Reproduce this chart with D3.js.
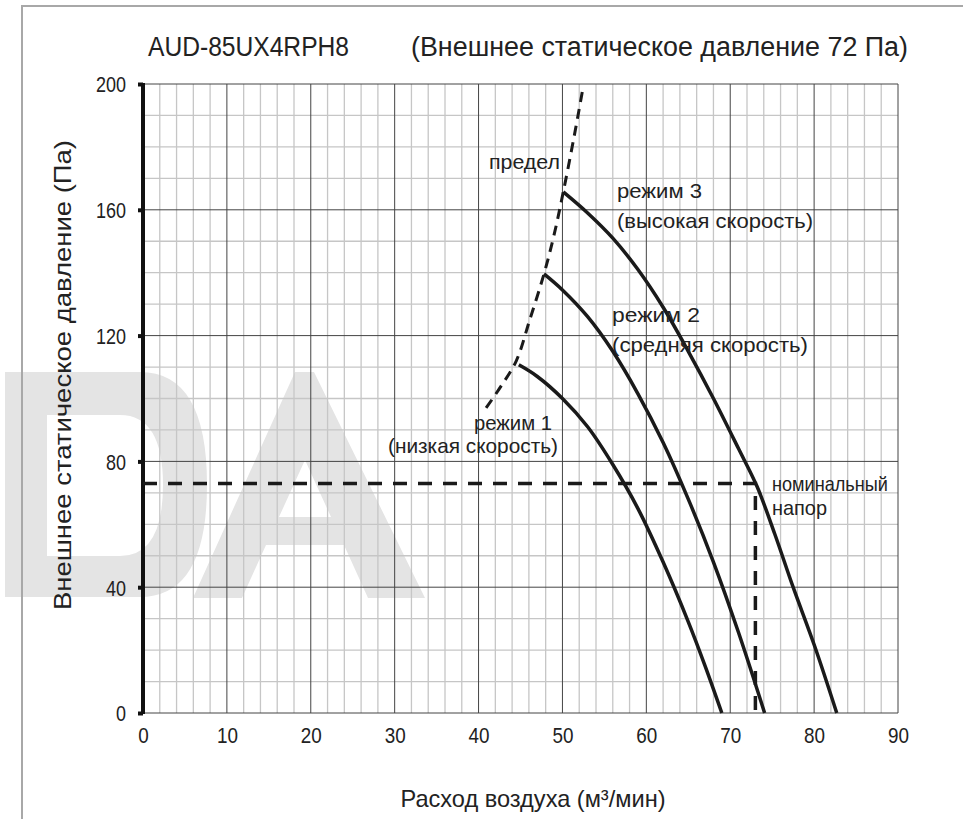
<!DOCTYPE html>
<html><head><meta charset="utf-8">
<script src="https://cdn.jsdelivr.net/npm/d3@7/dist/d3.min.js"></script>
<style>
body{margin:0;background:#fff}
text{font-family:"Liberation Sans Narrow","Arial Narrow","Liberation Sans",sans-serif;fill:#222}
</style>
</head><body>
<svg id="c" width="963" height="819"></svg>
<script>
// ---- data ----
const xTickValues = [0,10,20,30,40,50,60,70,80,90];
const yTickValues = [0,40,80,120,160,200];
const limitFlow  = [40.9,42.7,44.5,46.1,47.8,49.0,50.1,51.3,52.4];
const limitPress = [97,104,112,125,139.6,152,165.7,182,198];
const mode1Flow  = [44.8,47,50,53,56,59,62,65,67,69];
const mode1Press = [110.7,107,100,91,79,65,48,29,15,0];
const mode2Flow  = [47.8,50,53,56,59,62,65,68,71,74.1];
const mode2Press = [139.6,134.5,126,115,101.5,86,68,48,25.5,0];
const mode3Flow  = [50.1,53,56,59,62,65,68,71,73.2,75.3,77.5,80.1,82.7];
const mode3Press = [165.7,159,151,141,129,115,100,84,72,57,40,21,0];
const nominalFlow = 73, nominalPress = 73;
const titleModel = "AUD-85UX4RPH8";
const titleCond  = "(Внешнее статическое давление 72 Па)";
const yTitle = "Внешнее статическое давление (Па)";
const xTitle = "Расход воздуха (м³/мин)";

// ---- layout ----
const svg = d3.select("#c");
const L=143, R=898, T=84, B=713;
const x = d3.scaleLinear().domain([0,90]).range([L,R]);
const y = d3.scaleLinear().domain([0,200]).range([B,T]);

// watermark
svg.append("path")
  .attr("d","M5,372H140Q207,372 207,485Q207,597 140,597H5Z M47,415H120Q163,415 163,485Q163,556 120,556H47Z")
  .attr("fill","#e4e4e4").attr("fill-rule","evenodd");
svg.append("path")
  .attr("d","M193,598L295,372L314,372L425,598L368,598L344,545L266,545L242,598Z M305,460L331,517L279,517Z")
  .attr("fill","#e4e4e4").attr("fill-rule","evenodd");

// frame lines
svg.append("line").attr("x1",22).attr("x2",963).attr("y1",6).attr("y2",6).attr("stroke","#a8a8a8").attr("stroke-width",2);
svg.append("line").attr("x1",22).attr("x2",22).attr("y1",5).attr("y2",819).attr("stroke","#a8a8a8").attr("stroke-width",2);

// grid
const g = svg.append("g");
const minorX = d3.range(0,91,2).filter(v=>v%10!==0);
const minorY = d3.range(0,201,10).filter(v=>v%40!==0);
g.selectAll(".mx").data(minorX).join("line")
  .attr("x1",d=>x(d)).attr("x2",d=>x(d)).attr("y1",T).attr("y2",B)
  .attr("stroke","#c6c6c6").attr("stroke-width",1.3);
g.selectAll(".my").data(minorY).join("line")
  .attr("x1",L).attr("x2",R).attr("y1",d=>y(d)).attr("y2",d=>y(d))
  .attr("stroke","#c6c6c6").attr("stroke-width",1.3);
g.selectAll(".Mx").data(xTickValues).join("line")
  .attr("x1",d=>x(d)).attr("x2",d=>x(d)).attr("y1",T).attr("y2",B)
  .attr("stroke","#444").attr("stroke-width",1);
g.selectAll(".My").data(yTickValues).join("line")
  .attr("x1",L).attr("x2",R).attr("y1",d=>y(d)).attr("y2",d=>y(d))
  .attr("stroke","#444").attr("stroke-width",1);

// axes
const yAxis = d3.axisLeft(y).tickValues(yTickValues).tickSize(5).tickPadding(12);
const ya = svg.append("g").attr("transform",`translate(${L},0)`).call(yAxis);
ya.select(".domain").remove();
ya.selectAll(".tick line").attr("stroke","#111").attr("stroke-width",4);
ya.selectAll(".tick text").attr("font-size",22).attr("fill","#222").attr("font-family",null)
  .attr("dy","0.36em")
  .attr("textLength",d=>String(d).length*10).attr("lengthAdjust","spacingAndGlyphs");
const xAxis = d3.axisBottom(x).tickValues(xTickValues).tickSize(0).tickPadding(14);
const xa = svg.append("g").attr("transform",`translate(0,${B})`).call(xAxis);
xa.select(".domain").remove();
xa.selectAll(".tick text").attr("font-size",22).attr("fill","#222").attr("font-family",null)
  .attr("textLength",d=>String(d).length*10.5).attr("lengthAdjust","spacingAndGlyphs");
svg.append("line").attr("x1",L).attr("x2",L).attr("y1",T-1).attr("y2",B+1).attr("stroke","#111").attr("stroke-width",4);

// curves
const line = d3.line().x(d=>x(d[0])).y(d=>y(d[1])).curve(d3.curveCatmullRom.alpha(0.5));
const zip = (a,b)=>a.map((v,i)=>[v,b[i]]);
[[mode1Flow,mode1Press],[mode2Flow,mode2Press],[mode3Flow,mode3Press]].forEach(([f,p])=>{
  svg.append("path").attr("d",line(zip(f,p))).attr("fill","none").attr("stroke","#1a1a1a").attr("stroke-width",3.5);
});
svg.append("path").attr("d",line(zip(limitFlow,limitPress))).attr("fill","none")
  .attr("stroke","#1a1a1a").attr("stroke-width",3).attr("stroke-dasharray","10,7");
// nominal dashed
svg.append("path").attr("d",d3.line()([[x(0),y(nominalPress)],[x(nominalFlow),y(nominalPress)],[x(nominalFlow),y(0)]]))
  .attr("fill","none").attr("stroke","#1a1a1a").attr("stroke-width",3.5).attr("stroke-dasharray","14,11");

// texts
function txt(s,px,py,fs,len,anchor){
  const t=svg.append("text").attr("x",px).attr("y",py).attr("font-size",fs).text(s);
  if(anchor) t.attr("text-anchor",anchor);
  if(len) t.attr("textLength",len).attr("lengthAdjust","spacingAndGlyphs");
  return t;
}
txt(titleModel,148,56,28,201);
txt(titleCond,411,56,27,497);
txt("предел",489,169,21,71);
txt("режим 3",617,198,21,85);
txt("(высокая скорость)",617,228,21,196);
txt("режим 2",612,322,21,88);
txt("(средняя скорость)",612,352,21,196);
txt("режим 1",474,430,21,78);
txt("(низкая скорость)",388,453,21,170);
txt("номинальный",772,491,21,116);
txt("напор",772,515,21,55);
svg.append("text").attr("transform","translate(71,375) rotate(-90)").attr("text-anchor","middle")
  .attr("font-size",24).attr("textLength",470).attr("lengthAdjust","spacingAndGlyphs").text(yTitle);
txt(xTitle,533,807,24,265,"middle");
</script>
</body></html>
